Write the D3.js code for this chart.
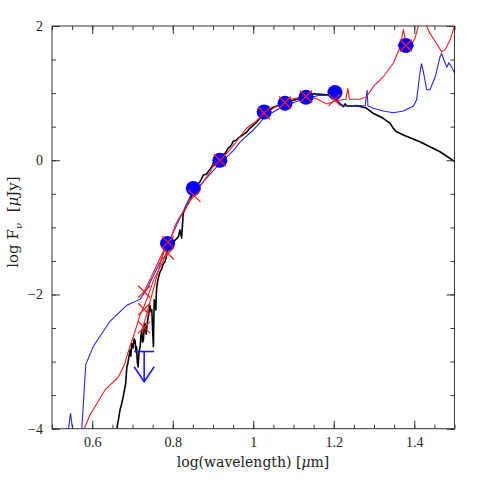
<!DOCTYPE html>
<html>
<head>
<meta charset="utf-8">
<script src="https://cdn.jsdelivr.net/npm/d3@7"></script>
<style>
  body { margin: 0; background: #fff; }
  .axis text { font-family: "Liberation Serif", serif; font-size: 14px; fill: #222; }
  .axis line { stroke: #333; }
  .axis path { display: none; }
</style>
</head>
<body>
<svg id="sed" width="480" height="480"></svg>
<script>
// observed photometry (blue circles)
var obsWave = [0.787, 0.851, 0.917, 1.027, 1.079, 1.131, 1.203, 1.379];
var obsFlux = [-1.24, -0.42, 0.0, 0.72, 0.85, 0.94, 1.01, 1.71];
var obsWaveErr = [0, 0, 0, 0, 0, 0, 0, 0.02];

// model photometry (red crosses)
var modWave = [0.729, 0.729, 0.729, 0.788, 0.788, 0.854, 0.917, 1.027, 1.079, 1.131, 1.202, 1.379];
var modFlux = [-1.96, -2.22, -2.49, -1.22, -1.39, -0.53, 0.0, 0.70, 0.86, 0.95, 0.90, 1.71];

// upper limit
var limWave = [0.729];
var limFlux = [-2.85];

// stellar spectrum (black)
var blackSpec = [[0.655,-4.1],[0.661,-4.0],[0.665,-3.87],[0.669,-3.72],[0.673,-3.63],[0.677,-3.52],[0.679,-3.45],[0.683,-3.33],[0.686,-3.08],[0.689,-3.01],[0.691,-2.93],[0.694,-2.83],[0.696,-2.92],[0.698,-2.73],[0.701,-2.80],[0.704,-2.66],[0.706,-2.68],[0.709,-2.86],[0.710,-2.78],[0.712,-3.01],[0.714,-3.08],[0.716,-2.86],[0.719,-2.78],[0.721,-2.62],[0.723,-2.53],[0.725,-2.71],[0.727,-2.68],[0.729,-2.50],[0.731,-2.43],[0.734,-2.59],[0.735,-2.53],[0.737,-2.41],[0.739,-2.33],[0.741,-2.26],[0.743,-2.16],[0.746,-2.26],[0.748,-2.23],[0.750,-2.53],[0.752,-2.78],[0.753,-2.38],[0.754,-2.08],[0.756,-2.17],[0.758,-2.23],[0.759,-2.01],[0.760,-1.91],[0.762,-1.82],[0.764,-1.76],[0.768,-1.67],[0.773,-1.61],[0.776,-1.55],[0.781,-1.51],[0.788,-1.34],[0.798,-1.25],[0.806,-1.19],[0.814,-1.14],[0.818,-1.04],[0.822,-1.16],[0.825,-0.89],[0.826,-0.79],[0.830,-0.74],[0.835,-0.67],[0.839,-0.64],[0.843,-0.59],[0.847,-0.52],[0.851,-0.42],[0.858,-0.38],[0.863,-0.35],[0.868,-0.32],[0.872,-0.27],[0.876,-0.22],[0.883,-0.21],[0.888,-0.17],[0.893,-0.13],[0.897,-0.10],[0.900,-0.06],[0.905,0.03],[0.912,0.0],[0.917,0.05],[0.924,0.08],[0.930,0.10],[0.938,0.18],[0.942,0.20],[0.946,0.23],[0.950,0.28],[0.957,0.30],[0.967,0.35],[0.975,0.38],[0.984,0.42],[0.992,0.48],[1.000,0.52],[1.009,0.57],[1.027,0.70],[1.050,0.79],[1.079,0.857],[1.108,0.91],[1.132,0.942],[1.149,0.991],[1.174,0.98],[1.191,0.972],[1.203,0.947],[1.211,0.872],[1.216,0.838],[1.224,0.80],[1.228,0.84],[1.232,0.81],[1.261,0.808],[1.282,0.773],[1.298,0.699],[1.323,0.625],[1.340,0.550],[1.348,0.475],[1.356,0.425],[1.373,0.376],[1.414,0.276],[1.464,0.127],[1.5,-0.016]];

// model with dust (blue)
var blueSpec = [[0.538,-4.1],[0.541,-4.0],[0.546,-3.77],[0.551,-4.0],[0.555,-4.3],[0.570,-4.3],[0.574,-4.0],[0.584,-3.04],[0.603,-2.77],[0.644,-2.40],[0.686,-2.16],[0.719,-2.07],[0.735,-1.93],[0.773,-1.46],[0.781,-1.31],[0.790,-1.22],[0.843,-0.54],[0.909,-0.10],[0.950,0.14],[0.967,0.27],[1.000,0.45],[1.017,0.56],[1.027,0.64],[1.079,0.82],[1.131,0.92],[1.166,0.97],[1.191,0.96],[1.211,0.87],[1.224,0.808],[1.257,0.818],[1.278,0.808],[1.283,1.046],[1.285,0.808],[1.298,0.773],[1.323,0.733],[1.348,0.708],[1.373,0.733],[1.398,0.808],[1.406,0.90],[1.414,1.30],[1.418,1.44],[1.422,1.34],[1.431,1.05],[1.439,1.05],[1.452,1.24],[1.464,1.54],[1.468,1.59],[1.475,1.47],[1.481,1.39],[1.486,1.45],[1.493,1.39],[1.5,1.30]];

// second model (red)
var redSpec = [[0.575,-4.1],[0.580,-4.0],[0.594,-3.80],[0.632,-3.42],[0.665,-3.23],[0.681,-3.03],[0.689,-2.86],[0.702,-2.63],[0.719,-2.30],[0.727,-2.20],[0.735,-2.08],[0.752,-1.79],[0.777,-1.49],[0.793,-1.21],[0.806,-0.97],[0.818,-0.84],[0.830,-0.74],[0.843,-0.59],[0.860,-0.47],[0.876,-0.32],[0.893,-0.17],[0.909,0.0],[0.934,0.10],[0.955,0.25],[0.967,0.35],[0.984,0.48],[1.0,0.55],[1.027,0.69],[1.054,0.79],[1.079,0.87],[1.1,0.92],[1.133,0.947],[1.158,0.917],[1.182,0.838],[1.199,0.872],[1.216,0.897],[1.230,0.908],[1.235,1.071],[1.239,0.908],[1.265,0.908],[1.282,0.947],[1.298,1.096],[1.323,1.244],[1.348,1.444],[1.365,1.69],[1.369,1.82],[1.373,1.95],[1.377,1.82],[1.381,1.72],[1.394,1.72],[1.402,1.82],[1.410,2.0],[1.418,2.15],[1.425,2.15],[1.431,2.0],[1.439,1.89],[1.452,1.77],[1.468,1.62],[1.476,1.64],[1.489,1.79],[1.5,2.0]];
var redExtra = [[[0.729,-1.96],[0.781,-1.30]], [[0.722,-2.55],[0.735,-2.30],[0.777,-1.36]]];

var xMajor = [0.6, 0.8, 1.0, 1.2, 1.4];
var xMinor = d3.range(0.5, 1.501, 0.05);
var yMajor = [-4, -2, 0, 2];
var yMinor = d3.range(-4, 2.001, 0.5);

var svg = d3.select("#sed"),
    pLeft = 52, pRight = 454.5, pTop = 26, pBottom = 428.7;

var x = d3.scaleLinear().domain([0.5, 1.5]).range([pLeft, pRight]);
var y = d3.scaleLinear().domain([-4, 2]).range([pBottom, pTop]);
var fmt = d3.format("~g");

svg.append("defs").append("clipPath").attr("id", "clip")
  .append("rect").attr("x", pLeft).attr("y", pTop)
  .attr("width", pRight - pLeft).attr("height", pBottom - pTop);

var line = d3.line().x(function(d) { return x(d[0]); }).y(function(d) { return y(d[1]); });
var plot = svg.append("g").attr("clip-path", "url(#clip)");

/* spectra */
plot.append("path").datum(blackSpec).attr("d", line)
  .attr("fill", "none").attr("stroke", "#000").attr("stroke-width", 1.6).attr("stroke-linejoin", "round");
plot.append("path").datum(blueSpec).attr("d", line)
  .attr("fill", "none").attr("stroke", "#2222ff").attr("stroke-width", 1.1);
plot.append("path").datum(redSpec).attr("d", line)
  .attr("fill", "none").attr("stroke", "#ff1a1a").attr("stroke-width", 1.1);
redExtra.forEach(function(seg) {
  plot.append("path").datum(seg).attr("d", line)
    .attr("fill", "none").attr("stroke", "#ff1a1a").attr("stroke-width", 1.1);
});

/* upper limit */
limWave.forEach(function(w, i) {
  var cx = x(w), cy = y(limFlux[i]), ty = y(limFlux[i] - 0.45);
  var g = svg.append("g").attr("stroke", "#1a1aff").attr("stroke-width", 1.6).attr("fill", "none");
  g.append("line").attr("x1", cx - 10).attr("x2", cx + 10).attr("y1", cy).attr("y2", cy);
  g.append("line").attr("x1", cx).attr("x2", cx).attr("y1", cy).attr("y2", ty);
  g.append("path").attr("d", "M" + (cx - 10) + "," + (ty - 15) + "L" + cx + "," + ty + "L" + (cx + 10) + "," + (ty - 15));
});

/* observations */
obsWave.forEach(function(w, i) {
  if (obsWaveErr[i] > 0) {
    svg.append("line")
      .attr("x1", x(w - obsWaveErr[i])).attr("x2", x(w + obsWaveErr[i]))
      .attr("y1", y(obsFlux[i])).attr("y2", y(obsFlux[i]))
      .attr("stroke", "#0000ff").attr("stroke-width", 1.5);
  }
});
svg.selectAll(".obs").data(obsWave).enter().append("circle")
  .attr("cx", function(d) { return x(d); })
  .attr("cy", function(d, i) { return y(obsFlux[i]); })
  .attr("r", 7.5).attr("fill", "#0000ff");

/* model crosses */
svg.selectAll(".mod").data(modWave).enter().append("path")
  .attr("d", function(d, i) {
    var cx = x(d), cy = y(modFlux[i]), s = 6;
    return "M" + (cx - s) + "," + (cy - s) + "L" + (cx + s) + "," + (cy + s) +
           "M" + (cx - s) + "," + (cy + s) + "L" + (cx + s) + "," + (cy - s);
  })
  .attr("stroke", "#ff1a1a").attr("stroke-width", 1.2).attr("fill", "none");

/* axes, ticks inward on all sides */
function addAxis(axisFn, scale, vals, size, tx, ty, labels, pad) {
  svg.append("g").attr("class", "axis")
    .attr("transform", "translate(" + tx + "," + ty + ")")
    .call(axisFn(scale).tickValues(vals).tickSize(size).tickSizeOuter(0)
      .tickPadding(pad || 3).tickFormat(labels ? fmt : ""));
}
addAxis(d3.axisBottom, x, xMinor, -4, 0, pBottom, false);
addAxis(d3.axisBottom, x, xMajor, -8, 0, pBottom, true, 8);
addAxis(d3.axisTop, x, xMinor, -4, 0, pTop, false);
addAxis(d3.axisTop, x, xMajor, -8, 0, pTop, false);
addAxis(d3.axisLeft, y, yMinor, -4, pLeft, 0, false);
addAxis(d3.axisLeft, y, yMajor, -8, pLeft, 0, true, 9);
addAxis(d3.axisRight, y, yMinor, -4, pRight, 0, false);
addAxis(d3.axisRight, y, yMajor, -8, pRight, 0, false);

svg.append("rect").attr("x", pLeft).attr("y", pTop)
  .attr("width", pRight - pLeft).attr("height", pBottom - pTop)
  .attr("fill", "none").attr("stroke", "#333").attr("stroke-width", 1);

/* axis titles */
var xt = svg.append("text").attr("x", 253).attr("y", 467)
  .attr("text-anchor", "middle").attr("font-family", "DejaVu Serif, serif")
  .attr("font-size", 14).attr("fill", "#222");
xt.append("tspan").text("log(wavelength) [");
xt.append("tspan").attr("font-style", "italic").text("μ");
xt.append("tspan").text("m]");

var yt = svg.append("text").attr("transform", "translate(18,222) rotate(-90)")
  .attr("text-anchor", "middle").attr("font-family", "DejaVu Serif, serif")
  .attr("font-size", 15).attr("fill", "#222");
yt.append("tspan").text("log F");
yt.append("tspan").attr("font-style", "italic").attr("font-size", 10).attr("dy", 4).text("ν");
yt.append("tspan").attr("dy", -4).attr("dx", 6).text(" [");
yt.append("tspan").attr("font-style", "italic").text("μ");
yt.append("tspan").text("Jy]");
</script>
</body>
</html>
